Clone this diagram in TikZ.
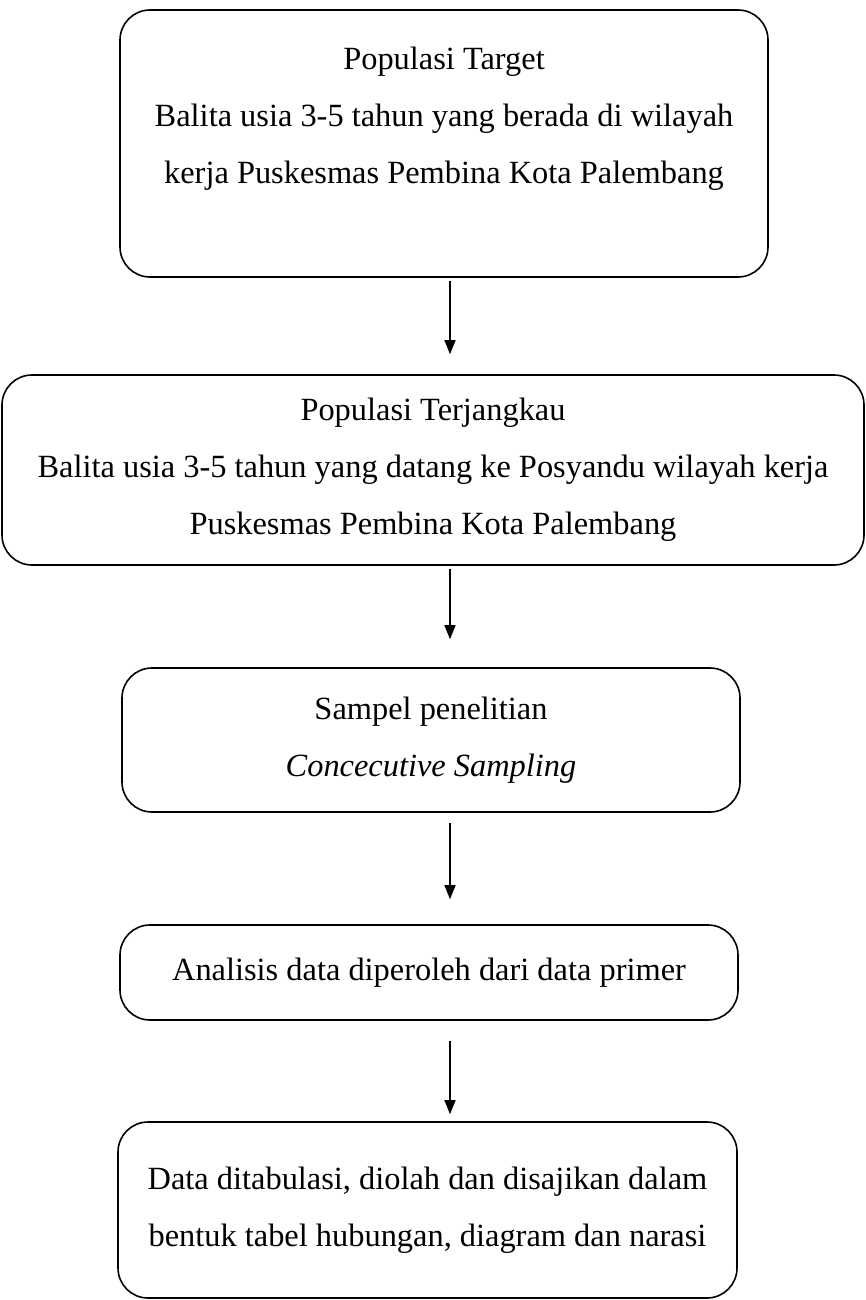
\documentclass[tikz,border=0pt]{standalone}
\usepackage{fontspec}
\setmainfont{Liberation Serif}
\usetikzlibrary{arrows,arrows.meta,positioning}
\tikzstyle{every picture}=[x=0.5pt, y=-0.5pt, >={Triangle[length=7pt,width=5.5pt]}]
\tikzstyle{kotak}=[draw, line width=0.8pt, rounded corners=15pt, align=center,%
	inner sep=0pt, font=\fontsize{16.2}{28.5}\selectfont]
\tikzstyle{panah}=[->, line width=0.7pt]

\begin{document}
\begin{tikzpicture}
	\useasboundingbox (0,0) rectangle (866,1300);
	\coordinate (sumbu) at (450,0);
	\node[kotak, minimum width=324pt, minimum height=133.5pt] (target) at (444,143.5) {%
		Populasi Target\\%
		Balita usia 3-5 tahun yang berada di wilayah\\%
		kerja Puskesmas Pembina Kota Palembang\\%
		~};
	\node[kotak, minimum width=431pt, minimum height=95pt] (jangkau) at (433,470) {%
		Populasi Terjangkau\\%
		Balita usia 3-5 tahun yang datang ke Posyandu wilayah kerja\\%
		Puskesmas Pembina Kota Palembang};
	\node[kotak, minimum width=309pt, minimum height=72pt] (sampel) at (431,740) {%
		Sampel penelitian\\%
		\textit{Concecutive Sampling}};
	\node[kotak, minimum width=309pt, minimum height=47.5pt] (analisis) at (429,972.5) {%
		Analisis data diperoleh dari data primer};
	\node[kotak, minimum width=309.5pt, minimum height=88pt] (sajian) at (427.5,1210) {%
		Data ditabulasi, diolah dan disajikan dalam\\%
		bentuk tabel hubungan, diagram dan narasi};
	\draw[panah, shorten <=1.5pt, shorten >=10pt] (target.south -| sumbu) -- (jangkau.north -| sumbu);
	\draw[panah, shorten <=1.5pt, shorten >=14pt] (jangkau.south -| sumbu) -- (sampel.north -| sumbu);
	\draw[panah, shorten <=5pt, shorten >=12.5pt] (sampel.south -| sumbu) -- (analisis.north -| sumbu);
	\draw[panah, shorten <=10pt, shorten >=3.5pt] (analisis.south -| sumbu) -- (sajian.north -| sumbu);
\end{tikzpicture}
\end{document}
